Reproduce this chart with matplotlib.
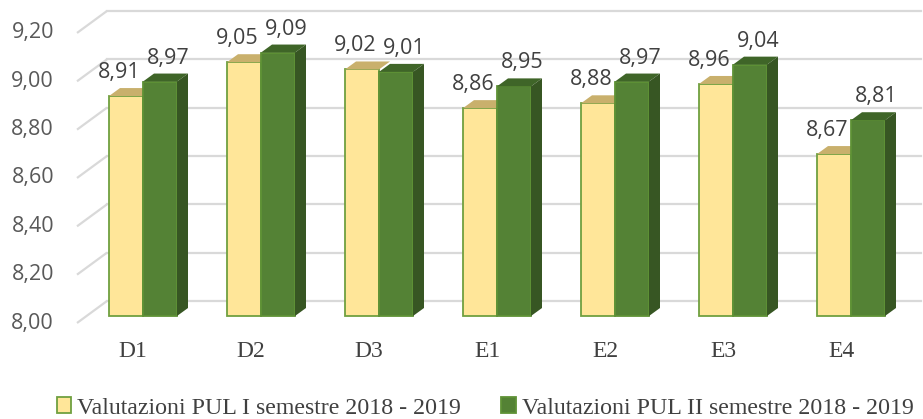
import numpy as np
import matplotlib
matplotlib.use('Agg')
import matplotlib.pyplot as plt
from matplotlib.patches import Polygon, Rectangle

categories = ['D1', 'D2', 'D3', 'E1', 'E2', 'E3', 'E4']
sem1 = [8.91, 9.05, 9.02, 8.86, 8.88, 8.96, 8.67]
sem2 = [8.97, 9.09, 9.01, 8.95, 8.97, 9.04, 8.81]
series_names = ['Valutazioni PUL I semestre 2018 - 2019',
                'Valutazioni PUL II semestre 2018 - 2019']
yticks = [8.0, 8.2, 8.4, 8.6, 8.8, 9.0, 9.2]

W, H = 923, 419
fig = plt.figure(figsize=(W / 100, H / 100), dpi=100)
ax = fig.add_axes([0, 0, 1, 1])
ax.axis('off')

# pixel scale of the bar plane (category units / value units)
px_x, px_y = 118.0, 241.7
ax.set_xlim((0 - 143) / px_x, (W - 143) / px_x)
ax.set_ylim(8 - (H - 316) / px_y, 8 + 316 / px_y)

# depth offsets (data units)
back_dx, back_dy = 20 / px_x, 15 / px_y
front_dx, front_dy = -10 / px_x, -7 / px_y
bar_dx, bar_dy = 11 / px_x, 8 / px_y
wall_left = -56 / px_x
wall_right = 6.42

grid_c = '#d9d9d9'
for t in yticks:
    ax.plot([wall_left + front_dx, wall_left + back_dx],
            [t + front_dy, t + back_dy], color=grid_c, lw=1.6, zorder=1,
            solid_capstyle='butt')
    ax.plot([wall_left + back_dx, wall_right + back_dx],
            [t + back_dy, t + back_dy], color=grid_c, lw=1.6, zorder=1)
    ax.text(wall_left + front_dx - 23 / px_x, t + front_dy,
            f'{t:.2f}'.replace('.', ','), ha='right', va='center',
            fontsize=15.5, color='#595959', family='Open Sans')

w = 34 / px_x
base = 8.0
yellow, yellow_edge, tan = '#ffe699', '#70a040', '#c9b06c'
green, green_top, green_side, green_edge = '#548235', '#3f6528', '#375623', '#5f9236'


def box(x0, v, face, top, side, edge, z):
    ax.add_patch(Rectangle((x0, base), w, v - base, facecolor=face,
                           edgecolor=edge, lw=1.3, zorder=z))
    ax.add_patch(Polygon([(x0, v), (x0 + w, v), (x0 + w + bar_dx, v + bar_dy),
                          (x0 + bar_dx, v + bar_dy)], closed=True,
                         facecolor=top, edgecolor='none', zorder=z))
    if side is not None:
        ax.add_patch(Polygon([(x0 + w, base), (x0 + w + bar_dx, base + bar_dy),
                              (x0 + w + bar_dx, v + bar_dy), (x0 + w, v)],
                             closed=True, facecolor=side, edgecolor='none',
                             zorder=z))


for i, cat in enumerate(categories):
    box(i - w, sem1[i], yellow, tan, None, yellow_edge, 3)
    box(i, sem2[i], green, green_top, green_side, green_edge, 4)
    ax.annotate(f'{sem1[i]:.2f}'.replace('.', ','), (i - 0.2, sem1[i]),
                xytext=(0, 18), textcoords='offset pixels', ha='center',
                va='baseline', fontsize=15.5, color='#404040',
                family='Open Sans', zorder=6)
    ax.annotate(f'{sem2[i]:.2f}'.replace('.', ','), (i + 0.21, sem2[i]),
                xytext=(0, 18), textcoords='offset pixels', ha='center',
                va='baseline', fontsize=15.5, color='#404040',
                family='Open Sans', zorder=6)
    ax.text(i + front_dx, base - 35 / px_y, cat, ha='center', va='center',
            fontsize=17, color='#404040', family='Liberation Serif')

handles = [Rectangle((0, 0), 1, 1, facecolor=yellow, edgecolor=yellow_edge, lw=1.3),
           Rectangle((0, 0), 1, 1, facecolor=green, edgecolor=green_edge, lw=1.3)]
fig.legend(handles, series_names, loc='center', bbox_to_anchor=(485 / W, 1 - 408 / H),
           ncol=2, frameon=False, handlelength=0.6, handleheight=0.6,
           handletextpad=0.25, columnspacing=1.7,
           prop={'family': 'Liberation Serif', 'size': 17.2}, labelcolor='#404040')

fig.savefig('out.png', dpi=100)
